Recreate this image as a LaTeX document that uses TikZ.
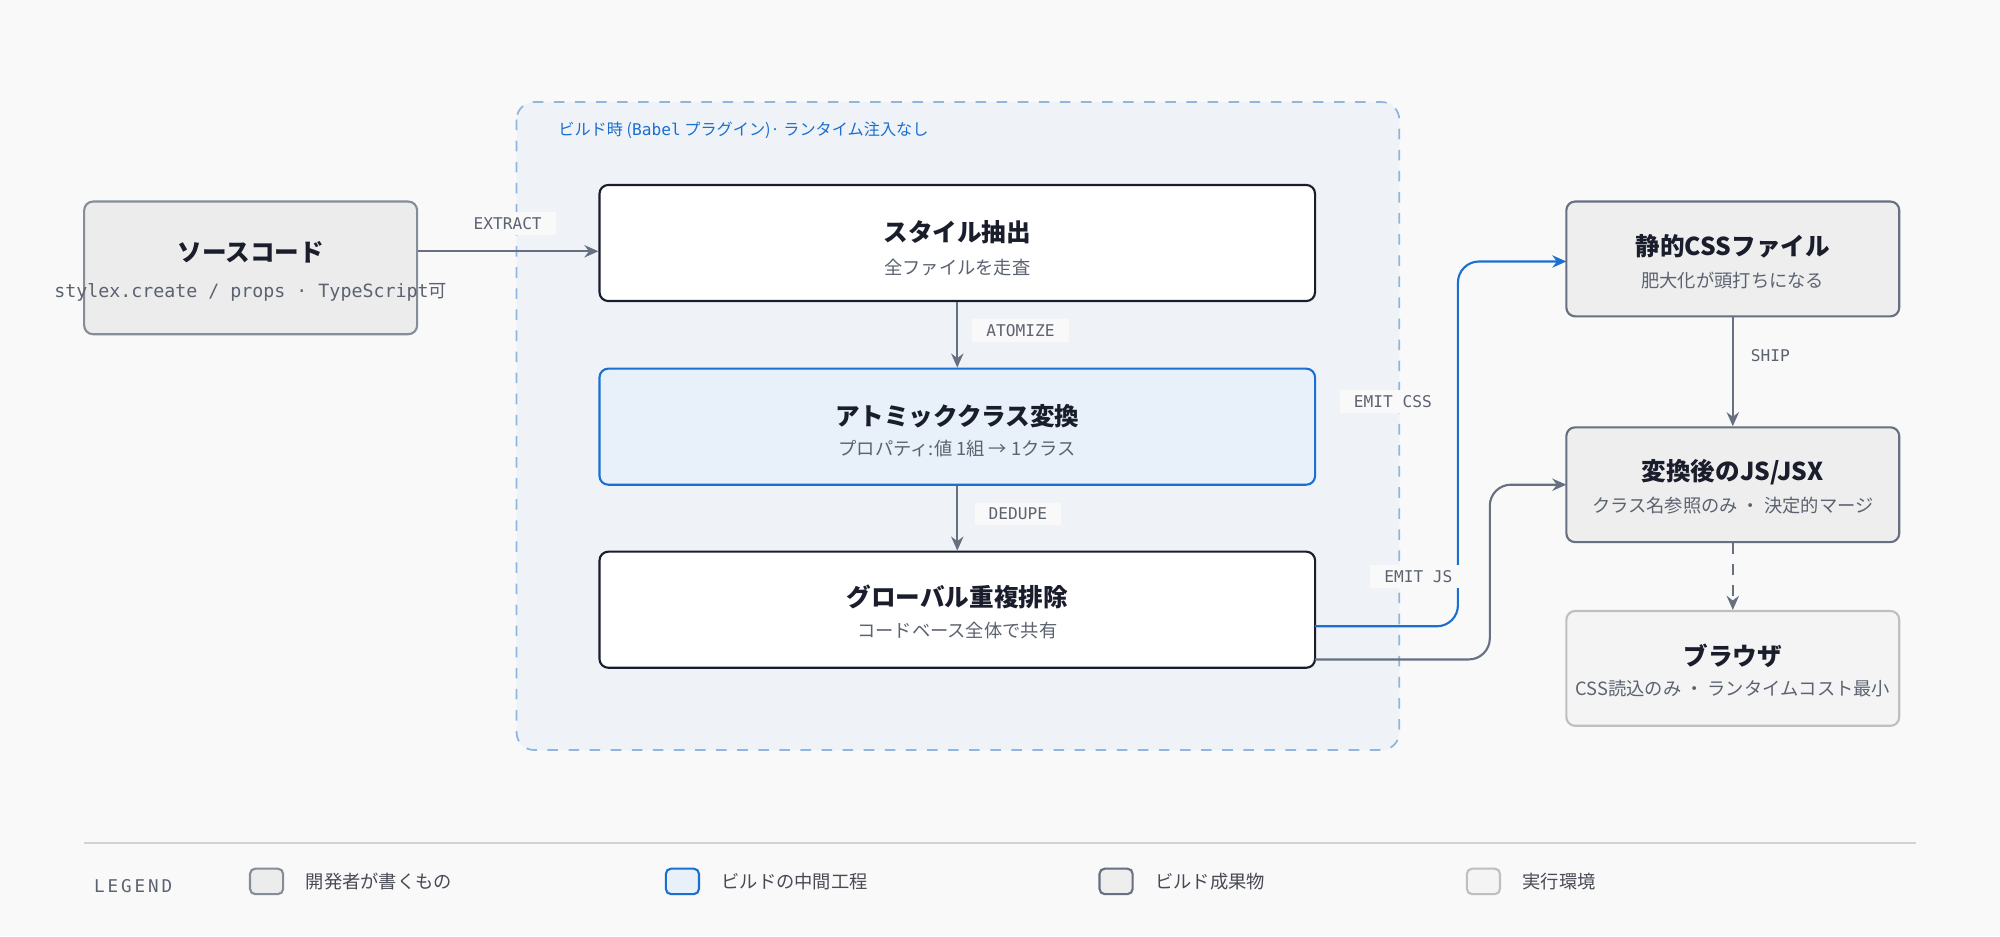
\documentclass[tikz,border=0pt]{standalone}
\usepackage{fontspec}
\setmainfont{Noto Sans CJK JP}
\setmonofont{DejaVu Sans Mono}
\newfontfamily\cjk{Noto Sans CJK JP}
\usetikzlibrary{arrows.meta}
\definecolor{bgc}{HTML}{F9F9F9}
\definecolor{ink}{HTML}{1A1D2B}
\definecolor{sub}{HTML}{5B6270}
\definecolor{edge}{HTML}{667080}
\definecolor{blu}{HTML}{1A6FD0}
\definecolor{zone}{HTML}{EFF3F7}
\definecolor{zoneline}{HTML}{8FB6E0}
\newcommand\px{0.012755cm}
\begin{document}
\begin{tikzpicture}[x=0.012755cm,y=-0.012755cm,
  box/.style={draw=ink,line width=0.6pt,rounded corners=2.5pt,fill=white,minimum width=261*\px,minimum height=90*\px},
  wide/.style={minimum width=561*\px,minimum height=91*\px},
  dev box/.style={box,draw=edge!80,fill=gray!15},
  mid box/.style={box,draw=blu,fill=blu!10},
  out box/.style={box,draw=edge,fill=gray!13},
  run box/.style={box,draw=gray!50,fill=gray!9},
  title/.style={font=\fontsize{7}{8}\selectfont\bfseries,text=ink},
  subt/.style={font=\fontsize{5.2}{6}\selectfont,text=sub},
  tag/.style={font=\ttfamily\fontsize{4.6}{5}\selectfont,text=sub,fill=bgc,inner xsep=4pt,inner ysep=1.5pt},
  flow/.style={edge,line width=0.6pt,-{Stealth[length=4pt,width=3.5pt]}},
  swatch/.style={rounded corners=1.5pt,line width=0.6pt}]
\fill[bgc] (0,0) rectangle (1568,734);
% build zone
\draw[zoneline,dashed,fill=zone,rounded corners=5pt,line width=0.5pt] (405,80) rectangle (1097,588);
\node[anchor=west,text=blu,font=\fontsize{4.6}{5}\selectfont] (zlab) at (428,102) {ビルド時 ({\ttfamily Babel} プラグイン)· ランタイム注入なし};
% nodes
\node[dev box,minimum height=104*\px] (src) at (196.5,210) {};
\node[title] at (196.5,198) {ソースコード};
\node[subt,font=\ttfamily\fontsize{5.2}{6}\selectfont] at (196.5,229) {stylex.create / props · TypeScript{\cjk 可}};
\node[box,wide] (ext) at (750.5,190.5) {};
\node[title] at (750.5,182) {スタイル抽出};
\node[subt] at (750.5,210) {全ファイルを走査};
\node[mid box,wide] (atom) at (750.5,334.5) {};
\node[title] at (750.5,326) {アトミッククラス変換};
\node[subt] at (750.5,352) {プロパティ:値 1組 → 1クラス};
\node[box,wide] (dedup) at (750.5,478) {};
\node[title] at (750.5,468) {グローバル重複排除};
\node[subt] at (750.5,494) {コードベース全体で共有};
\node[out box] (css) at (1358.5,203) {};
\node[title] at (1358.5,193) {静的CSSファイル};
\node[subt] at (1358.5,220) {肥大化が頭打ちになる};
\node[out box] (js) at (1358.5,380) {};
\node[title] at (1358.5,370) {変換後のJS/JSX};
\node[subt] at (1358.5,396) {クラス名参照のみ ・ 決定的マージ};
\node[run box] (brw) at (1358.5,524) {};
\node[title] at (1358.5,514) {ブラウザ};
\node[subt] at (1358.5,540) {CSS読込のみ ・ ランタイムコスト最小};
% connectors
\draw[flow] (src.east |- 0,197) -- (ext.west |- 0,197);
\node[tag] at (398,175) {EXTRACT};
\draw[flow] (ext) -- (atom);
\node[tag] at (800,259) {ATOMIZE};
\draw[flow] (atom) -- (dedup);
\node[tag] at (798,403) {DEDUPE};
\coordinate (cssin) at (1228,205);
\coordinate (jsin) at (1228,380);
\draw[flow,draw=blu,rounded corners=6pt] (1031,491) -- (1143,491) -- (1143,205) -- (cssin);
\node[tag] at (1092,315) {EMIT CSS};
\draw[flow,rounded corners=6pt] (1031,517) -- (1168,517) -- (1168,380) -- (jsin);
\node[tag] at (1112,452) {EMIT JS};
\draw[flow] (css) -- (js);
\node[tag] at (1388,279) {SHIP};
\draw[flow,dashed] (js) -- (brw);
% legend
\draw[gray!35,line width=0.6pt] (66,661) -- (1502,661);
\node[anchor=west,font=\ttfamily\fontsize{5}{6}\selectfont,text=sub] at (64,695) {L\,E\,G\,E\,N\,D};
\draw[swatch,draw=edge!80,fill=gray!15] (196,681) rectangle (222,701);
\node[anchor=west,subt,text=ink!80] at (230,691) {開発者が書くもの};
\draw[swatch,draw=blu,fill=blu!10] (522,681) rectangle (548,701);
\node[anchor=west,subt,text=ink!80] at (556,691) {ビルドの中間工程};
\draw[swatch,draw=edge,fill=gray!13] (862,681) rectangle (888,701);
\node[anchor=west,subt,text=ink!80] at (896,691) {ビルド成果物};
\draw[swatch,draw=gray!50,fill=gray!9] (1150,681) rectangle (1176,701);
\node[anchor=west,subt,text=ink!80] at (1184,691) {実行環境};
\end{tikzpicture}
\end{document}
